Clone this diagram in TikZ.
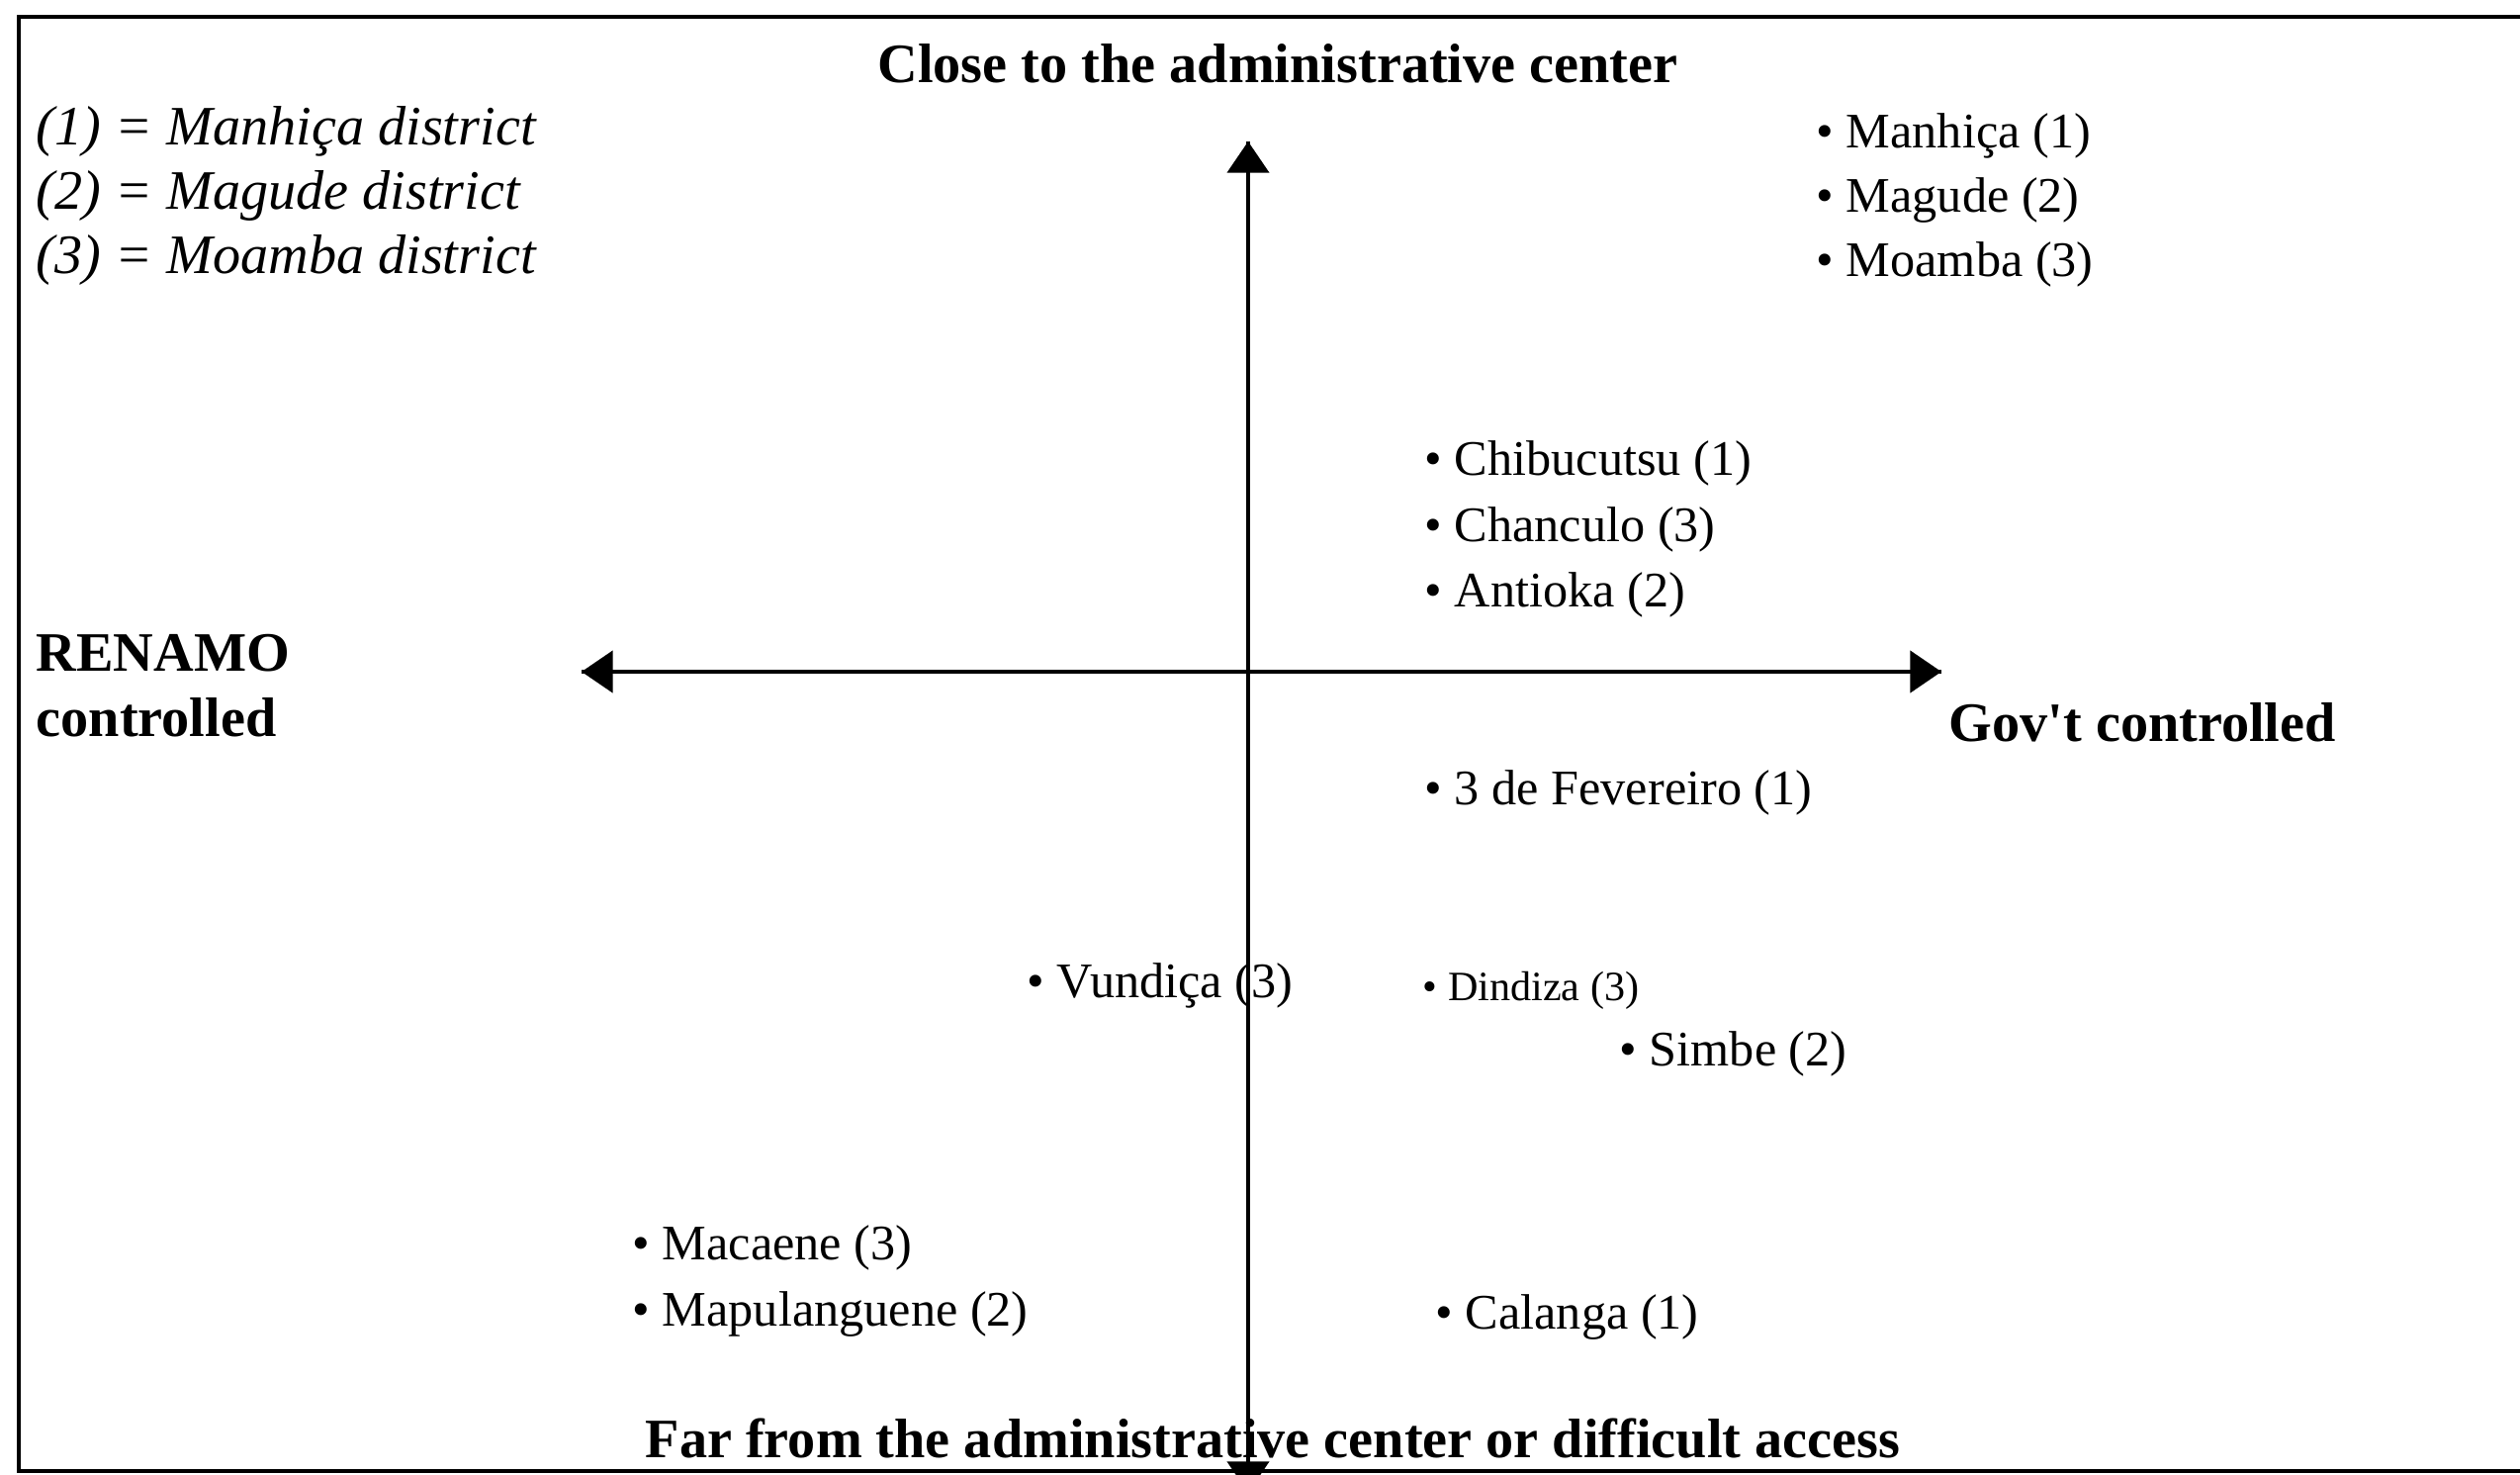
\documentclass[tikz,border=0pt]{standalone}
\usepackage{fontspec}
\setmainfont{Liberation Serif}
\usepackage{tikz}
\usetikzlibrary{arrows.meta}
\usetikzlibrary{decorations.markings}
\usetikzlibrary{positioning}
\tikzset{axis/.style = {line width = 1.1pt,
                        decoration={markings,
                                    mark=at position 0 with {\arrowreversed{Triangle[length=9pt, width=12pt]}},
                                    mark=at position 1 with {\arrow{Triangle[length=9pt, width=12pt]}}},
                        postaction={decorate}}}
\tikzset{site/.style = {anchor = west, inner sep = 0, font = \fontsize{14.3}{17}\selectfont}}
\tikzset{pole/.style = {inner sep = 0, font = \bfseries\fontsize{16}{18.6}\selectfont}}

\begin{document}
\begin{tikzpicture}[x = 0.1mm, y = -0.1mm]
      \clip (0, 0) rectangle (2548, 1491);
      \fill [white] (0, 0) rectangle (2548, 1491);
      \draw [line width = 1.4pt] (2548, 17) -- (19, 17) -- (19, 1487) -- (2548, 1487);

      % axes
      \coordinate (west) at (588, 679);
      \coordinate (east) at (1963, 679);
      \coordinate (north) at (1262, 143);
      \coordinate (south) at (1262, 1509);
      \draw [axis] (west) -- (east);
      \draw [axis, line width = 1pt] (north) -- (south);

      \node [pole] (close) at (1292, 64) {Close to the administrative center};
      \node [pole] (far) at (1287, 1454) {Far from the administrative center or difficult access};
      \node [pole, anchor = west, align = left] (renamo) at (36, 693) {RENAMO\\controlled};
      \node [pole, anchor = west] (govt) at (1970, 730) {Gov\textquotesingle t controlled};

      \node [anchor = west, inner sep = 0, align = left,
             font = \itshape\fontsize{16}{18.6}\selectfont] (legend) at (36, 198)
            {(1) = Manhiça district\\(2) = Magude district\\(3) = Moamba district};

      % sites
      \node [site] (manhica) at (1836, 137) {• Manhiça (1)};
      \node [site] (magude) at (1836, 202) {• Magude (2)};
      \node [site] (moamba) at (1836, 267) {• Moamba (3)};
      \node [site] (chibucutsu) at (1440, 468) {• Chibucutsu (1)};
      \node [site] (chanculo) at (1440, 535) {• Chanculo (3)};
      \node [site] (antioka) at (1440, 601) {• Antioka (2)};
      \node [site] (fevereiro) at (1440, 801) {• 3 de Fevereiro (1)};
      \node [site] (vundica) at (1038, 996) {• Vundiça (3)};
      \node [site, font = \fontsize{12}{14}\selectfont] (dindiza) at (1438, 1001) {• Dindiza (3)};
      \node [site] (simbe) at (1637, 1065) {• Simbe (2)};
      \node [site] (macaene) at (639, 1261) {• Macaene (3)};
      \node [site] (mapulanguene) at (639, 1328) {• Mapulanguene (2)};
      \node [site] (calanga) at (1451, 1331) {• Calanga (1)};
\end{tikzpicture}
\end{document}
